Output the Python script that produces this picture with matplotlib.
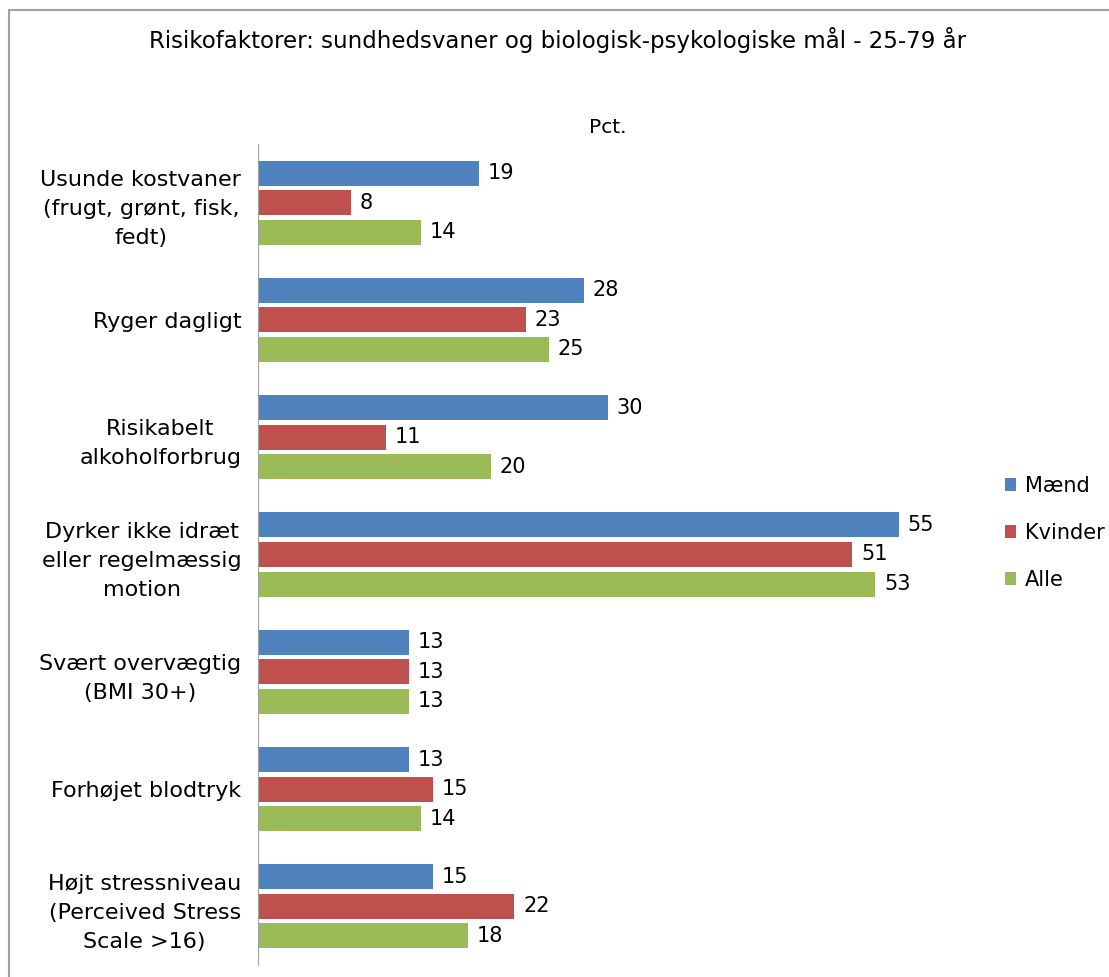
import matplotlib
matplotlib.use("Agg")
import matplotlib.pyplot as plt
import numpy as np
from matplotlib.patches import Rectangle

plt.rcParams['font.family'] = ['DejaVu Sans']

categories = [
    "Usunde kostvaner\n(frugt, grønt, fisk,\nfedt)",
    "Ryger dagligt",
    "Risikabelt\nalkoholforbrug",
    "Dyrker ikke idræt\neller regelmæssig\nmotion",
    "Svært overvægtig\n(BMI 30+)",
    "Forhøjet blodtryk",
    "Højt stressniveau\n(Perceived Stress\nScale >16)",
]
maend = [19, 28, 30, 55, 13, 13, 15]
kvinder = [8, 23, 11, 51, 13, 15, 22]
alle = [14, 25, 20, 53, 13, 14, 18]
series_names = ["Mænd", "Kvinder", "Alle"]
colors = ["#4F81BD", "#C0504D", "#9BBB59"]

W, H = 1109, 977
fig = plt.figure(figsize=(W / 100, H / 100), dpi=100)

# outer frame
fig.patches.append(Rectangle((9 / W, -0.01), 1.1, 1 - 10 / H + 0.01,
                             transform=fig.transFigure, fill=False,
                             edgecolor="#A0A0A0", linewidth=1.5))

ax_left, ax_right = 258, 957
ax_top, ax_bot = 144, 965
ax = fig.add_axes([ax_left / W, 1 - ax_bot / H, (ax_right - ax_left) / W, (ax_bot - ax_top) / H])

n = len(categories)
y = np.arange(n)
off = 0.252
bh = 0.213
for i, (vals, name, c) in enumerate(zip([maend, kvinder, alle], series_names, colors)):
    pos = y + (i - 1) * off
    bars = ax.barh(pos, vals, height=bh, color=c, label=name)
    for b, v in zip(bars, vals):
        ax.text(v + 0.75, b.get_y() + b.get_height() / 2, str(v), va="center", ha="left", fontsize=15)

ax.set_xlim(0, 60)
ax.set_ylim(n - 0.5, -0.5)
ax.set_yticks(y)
ax.set_yticklabels(categories, fontsize=16, multialignment="center", linespacing=1.55)
ax.tick_params(axis="y", length=0, pad=12)
ax.set_xticks([])
for s in ["top", "right", "bottom"]:
    ax.spines[s].set_visible(False)
ax.spines["left"].set_color("#A0A0A0")
ax.set_title("Pct.", fontsize=14.5, pad=8)

fig.text(558 / W, 1 - 40 / H, "Risikofaktorer: sundhedsvaner og biologisk-psykologiske mål - 25-79 år",
         ha="center", va="center", fontsize=16.5)

leg = fig.legend(loc="center left", bbox_to_anchor=(986 / W, 1 - 533 / H), frameon=False,
                 fontsize=15, handlelength=0.55, handleheight=0.55, handletextpad=0.4,
                 labelspacing=1.3)

fig.savefig("out.png", dpi=100)
